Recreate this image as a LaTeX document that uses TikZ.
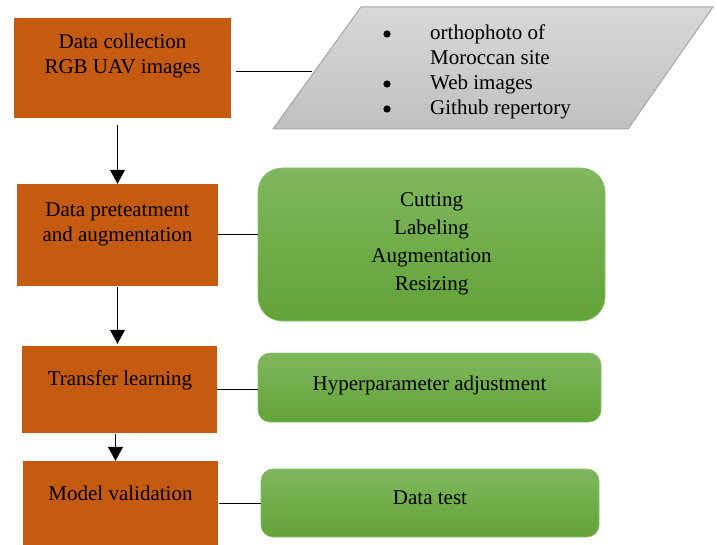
\documentclass[tikz,border=0pt]{standalone}
\usepackage{fontspec}
\setmainfont{Liberation Serif}
\usetikzlibrary{arrows.meta,calc}
\definecolor{orangebox}{HTML}{C55A11}
\definecolor{gtop}{HTML}{7FB85D}
\definecolor{gbot}{HTML}{62A338}
\definecolor{gedge}{HTML}{8CBF6C}
\definecolor{ptop}{HTML}{D8D8D8}
\definecolor{pbot}{HTML}{C0C0C0}
\definecolor{pedge}{HTML}{A6A6A6}
\tikzset{
  stage/.style={fill=orangebox, draw=none, inner sep=0pt},
  tool/.style={top color=gtop, bottom color=gbot, draw=gedge, line width=0.6pt, inner sep=0pt},
  txt/.style={inner sep=0pt, font=\fontsize{21}{25}\selectfont, text=black},
  arr/.style={line width=1.3pt, -{Triangle[length=14pt,width=15pt]}},
  conn/.style={line width=1pt, black},
  bulletdot/.style={fill=black},
}
\begin{document}
\begin{tikzpicture}[x=1pt,y=-1pt]
\useasboundingbox (0,0) rectangle (717,545);

% parallelogram (data sources)
\path[top color=ptop, bottom color=pbot, draw=pedge, line width=1pt]
  (361,7) -- (713,7) -- (628,129) -- (273,129) -- cycle;
\coordinate (srcL) at (312,72);

% stage boxes
\node[stage, minimum width=217pt, minimum height=100pt] (b1) at (122.5,68) {};
\node[stage, minimum width=201pt, minimum height=102pt] (b2) at (117.5,235) {};
\node[stage, minimum width=195pt, minimum height=87pt] (b3) at (119.5,389.5) {};
\node[stage, minimum width=195pt, minimum height=84pt] (b4) at (120.5,503) {};

% green boxes
\node[tool, rounded corners=24pt, minimum width=347pt, minimum height=153pt] (g1) at (431.5,244.5) {};
\node[tool, rounded corners=12pt, minimum width=343pt, minimum height=69pt] (g2) at (429.5,387.5) {};
\node[tool, rounded corners=12pt, minimum width=338pt, minimum height=68pt] (g3) at (430,503) {};

% texts
\node[txt, anchor=base] (b1t) at (122.5,49) {\begin{tabular}[t]{@{}c@{}}Data collection\\RGB UAV images\end{tabular}};
\node[txt, anchor=base] (b2t) at (117.5,217) {\begin{tabular}[t]{@{}c@{}}Data preteatment\\and augmentation\end{tabular}};
\node[txt, anchor=base] (b3t) at (120,385) {Transfer learning};
\node[txt, anchor=base] (b4t) at (120.5,500) {Model validation};

% bullet list
\fill[bulletdot] (387,34) circle (3.6pt);
\fill[bulletdot] (387,84) circle (3.6pt);
\fill[bulletdot] (387,109) circle (3.6pt);
\node[txt, anchor=base west] (srct) at (430,40) {\begin{tabular}[t]{@{}l@{}}orthophoto of\\Moroccan site\\Web images\\Github repertory\end{tabular}};

\node[txt, anchor=base, font=\fontsize{21}{27.7}\selectfont] (g1t) at (431.5,207) {\begin{tabular}[t]{@{}c@{}}Cutting\\Labeling\\Augmentation\\Resizing\end{tabular}};
\node[txt, anchor=base] (g2t) at (429.5,390) {Hyperparameter adjustment};
\node[txt, anchor=base] (g3t) at (430,504) {Data test};

% connectors
\draw[conn] ([shift={(5pt,-4pt)}]b1.east) -- (srcL);
\draw[conn] (b2.east) -- (b2.east -| g1.west);
\draw[conn] (b3.east) -- (b3.east -| g2.west);
\draw[conn] ([xshift=1pt]b4.east) -- (b4.east -| g3.west);

% arrows
\draw[arr] ([yshift=-7pt]b1.south -| b2.north) -- (b2.north);
\draw[arr, shorten >=2pt] ([yshift=-1pt]b2.south) -- (b2.south |- b3.north);
\draw[arr] ([shift={(-4pt,-1pt)}]b3.south) coordinate (a3s) -- (a3s |- b4.north);
\end{tikzpicture}
\end{document}
